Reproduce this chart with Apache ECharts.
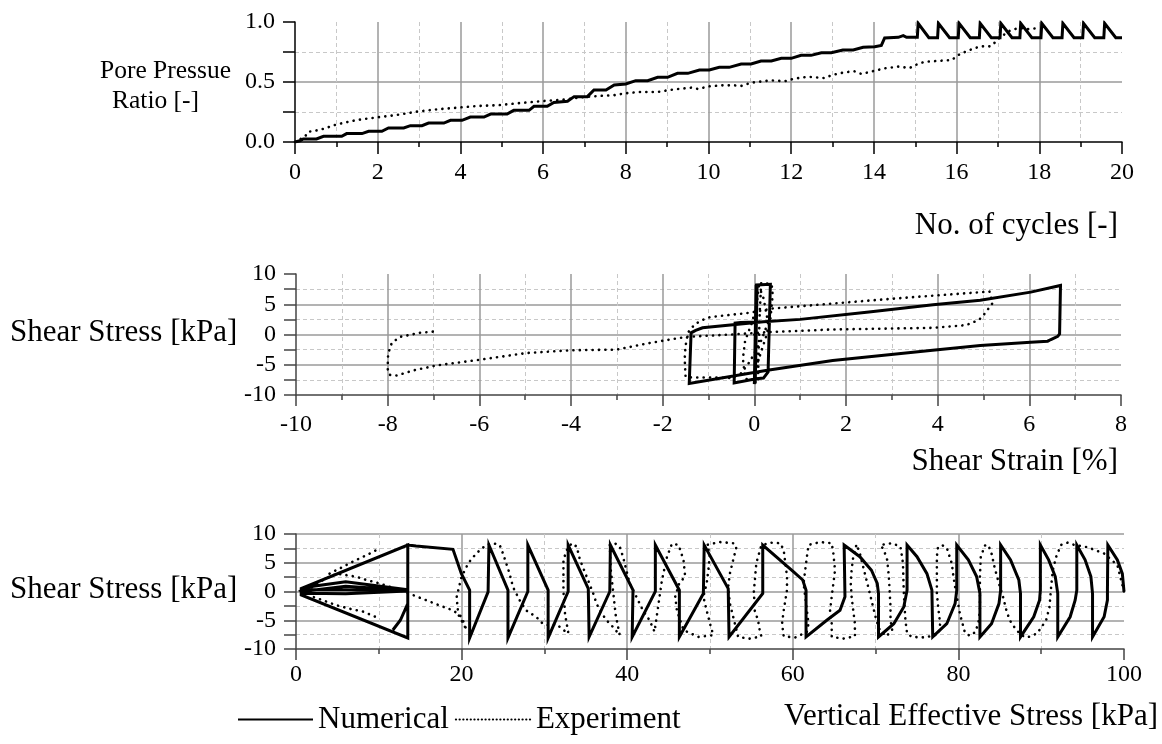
<!DOCTYPE html>
<html>
<head>
<meta charset="utf-8">
<script src="https://cdn.jsdelivr.net/npm/echarts@6/dist/echarts.min.js"></script>
<style>
  html, body { margin: 0; padding: 0; background: #fff; }
  #chart { width: 1162px; height: 744px; }
</style>
</head>
<body>
<div id="chart"></div>
<script>
// ---- axis ranges / tick labels ----
const cycleTicks = [0, 2, 4, 6, 8, 10, 12, 14, 16, 18, 20];
const ratioTicks = ['0.0', '0.5', '1.0'];
const strainTicks = [-10, -8, -6, -4, -2, 0, 2, 4, 6, 8];
const stressTicks = [-10, -5, 0, 5, 10];
const sigmaTicks = [0, 20, 40, 60, 80, 100];

// ---- pore pressure ratio vs. number of cycles ----
const ratioNumerical = [
  [0, 0], [0.12, 0.01], [0.2, 0.025], [0.52, 0.025], [0.69, 0.047], [1.13, 0.047],
  [1.25, 0.07], [1.62, 0.07], [1.78, 0.089], [2.1, 0.089], [2.26, 0.117], [2.63, 0.117],
  [2.79, 0.136], [3.07, 0.136], [3.23, 0.158], [3.6, 0.158], [3.76, 0.181], [4.04, 0.181],
  [4.24, 0.208], [4.57, 0.208], [4.73, 0.233], [5.13, 0.233], [5.29, 0.264], [5.66, 0.264],
  [5.78, 0.297], [6.1, 0.297], [6.26, 0.33], [6.59, 0.339], [6.75, 0.378], [7.07, 0.378],
  [7.23, 0.433], [7.52, 0.433], [7.72, 0.475], [8.0, 0.483], [8.24, 0.511], [8.53, 0.511],
  [8.77, 0.539], [9.01, 0.539], [9.25, 0.572], [9.5, 0.572], [9.78, 0.6], [10.02, 0.6],
  [10.26, 0.622], [10.5, 0.622], [10.79, 0.65], [11.03, 0.65], [11.27, 0.675], [11.52, 0.675],
  [11.76, 0.697], [12.0, 0.697], [12.24, 0.722], [12.48, 0.722], [12.73, 0.744], [12.97, 0.744],
  [13.25, 0.767], [13.5, 0.767], [13.74, 0.789], [14.02, 0.794], [14.18, 0.805], [14.26, 0.867],
  [14.59, 0.872], [14.71, 0.886], [14.79, 0.872], [15.05, 0.872],
  [15.07, 0.989], [15.33, 0.869], [15.54, 0.869], [15.56, 0.989], [15.83, 0.869], [16.04, 0.869],
  [16.06, 0.989], [16.33, 0.869], [16.55, 0.869], [16.57, 0.989], [16.84, 0.869], [17.05, 0.869],
  [17.07, 0.989], [17.34, 0.869], [17.53, 0.869], [17.55, 0.989], [17.82, 0.869], [18.04, 0.869],
  [18.06, 0.989], [18.33, 0.869], [18.55, 0.869], [18.57, 0.989], [18.84, 0.869], [19.05, 0.869],
  [19.07, 0.989], [19.34, 0.869], [19.56, 0.869], [19.58, 0.989], [19.85, 0.869], [20.0, 0.869]
];
const ratioExperiment = [
  [0, 0], [0.24, 0.044], [0.32, 0.086], [0.44, 0.09], [0.69, 0.11], [1.01, 0.147],
  [1.49, 0.183], [1.98, 0.205], [2.46, 0.225], [2.95, 0.253], [3.43, 0.272], [3.92, 0.286],
  [4.4, 0.3], [4.89, 0.306], [5.45, 0.325], [6.02, 0.342], [6.5, 0.353], [6.91, 0.372],
  [7.31, 0.383], [7.72, 0.39], [8.0, 0.406], [8.32, 0.417], [8.77, 0.417], [9.05, 0.433],
  [9.33, 0.444], [9.58, 0.453], [9.74, 0.442], [10.02, 0.464], [10.3, 0.472], [10.63, 0.472],
  [10.79, 0.467], [11.03, 0.494], [11.52, 0.514], [11.84, 0.506], [12.08, 0.528], [12.4, 0.544],
  [12.81, 0.533], [12.97, 0.556], [13.29, 0.581], [13.53, 0.589], [13.7, 0.567], [14.02, 0.594],
  [14.26, 0.614], [14.59, 0.628], [14.87, 0.617], [14.99, 0.64], [15.23, 0.669], [15.88, 0.683],
  [16.08, 0.733], [16.32, 0.767], [16.57, 0.797], [16.81, 0.797], [16.93, 0.83], [17.05, 0.872],
  [17.29, 0.928], [17.5, 0.95], [17.74, 0.94], [17.98, 0.95]
];

// ---- shear stress vs. shear strain ----
const strainNumerical = [
  [0.02, -8.1], [0.04, 8.2], [0.0, -8.2], [0.06, 8.2], [0.02, -8.0], [0.05, 8.2],
  [0.35, 8.3], [0.3, -6.2], [0.2, -7.2], [0.04, -7.3], [-0.44, -8.0], [-0.42, 1.9],
  [-0.3, 2.0], [0.2, 2.1], [1.0, 2.5], [2.5, 3.7], [3.9, 4.9], [4.93, 5.67], [6.03, 7.0],
  [6.68, 8.1], [6.66, 0.1], [6.62, -0.3], [6.47, -0.83], [6.4, -1.1], [6.03, -1.28],
  [4.93, -1.83], [3.89, -2.61], [1.71, -4.28], [0.25, -5.94], [-1.42, -8.1], [-1.38, 0.28],
  [-1.28, 0.67], [-1.13, 1.1], [0.2, 2.1]
];
const strainExperiment = [
  [0, 0], [0.05, -3], [0.08, -7.4], [0.1, -1], [0.12, 4], [0.15, 8.5], [0.3, 8.4], [0.38, 8.2],
  [0.4, 6.5], [0.35, 2.5], [0.25, -0.5], [0.1, -4], [-0.05, -7.6], [-0.2, -7.3], [-0.25, -4],
  [-0.2, -1], [-0.05, 2], [0.05, 5], [0.1, 8.0], [0.2, 6], [0.3, 2], [0.15, -1], [-0.1, -4.5],
  [-0.3, -6.5], [-0.5, -7.2], [-1.0, -7.1], [-1.35, -7.1], [-1.5, -7.0], [-1.52, -4.0],
  [-1.5, -1.9], [-1.45, 0.3], [-1.3, 1.7], [-1.1, 2.5], [-0.96, 2.89], [-0.09, 3.6], [0.4, 4.3],
  [2.0, 5.3], [3.5, 6.2], [5.13, 7.1], [5.2, 5.2], [5.0, 3.2], [4.9, 2.4], [4.62, 1.55],
  [3.89, 1.1], [1.71, 0.83], [0.3, 0.4], [-0.5, 0.0], [-1.48, -0.39], [-2.05, -1.1],
  [-2.35, -1.5], [-3.0, -2.5], [-4.02, -2.61], [-4.97, -3.06], [-5.99, -4.17], [-6.93, -5.11],
  [-7.44, -5.94], [-7.8, -6.78], [-7.96, -6.67], [-8.0, -5.67], [-7.99, -3.17], [-7.91, -1.39],
  [-7.73, -0.39], [-7.29, 0.28], [-6.89, 0.56]
];

// ---- shear stress vs. vertical effective stress ----
const pathNumerical = [
  [100.0, 0.0], [99.8, 3.1], [99.2, 5.5], [98.05, 8.08], [98.0, 0.23], [98.0, -1.5], [97.6, -4.4],
  [96.2, -7.9], [96.2, -0.35], [96.0, 2.6], [95.3, 5.5], [94.3, 8.08], [94.3, 0.23], [94.1, -1.5],
  [93.5, -4.4], [92.0, -7.9], [92.0, -0.35], [91.7, 2.6], [90.9, 5.5], [89.9, 8.08], [89.9, 0.23],
  [89.8, -1.5], [89.1, -4.4], [87.5, -7.9], [87.5, -0.35], [87.3, 2.0], [86.3, 5.5], [85.1, 8.08],
  [85.1, 0.23], [84.9, -2.1], [84.0, -5.6], [82.6, -7.9], [82.6, -0.35], [82.2, 2.6], [81.2, 5.5],
  [79.8, 8.08], [79.8, 0.23], [79.6, -2.1], [78.6, -5.6], [76.9, -7.9], [76.8, 0.23], [76.2, 3.1],
  [75.0, 6.05], [73.8, 8.08], [73.8, 0.23], [73.4, -2.7], [72.2, -5.6], [70.35, -7.9],
  [70.35, -0.35], [70.2, 1.4], [69.5, 3.7], [68.1, 6.05], [66.2, 8.08], [66.3, -0.9], [65.7, -3.26],
  [64.1, -5.0], [61.6, -7.9], [61.6, 0.23], [61.2, 2.0], [60.1, 3.4], [56.37, 8.08], [56.37, -0.35],
  [52.3, -7.9], [52.2, 0.5], [49.3, 8.08], [49.2, -0.35], [46.3, -7.9], [46.3, 0.23], [43.4, 8.08],
  [43.4, 0.0], [40.6, -7.9], [40.7, 0.23], [37.97, 8.08], [37.9, 0.0], [35.4, -7.9], [35.3, 0.5],
  [32.87, 8.08], [32.87, 0.0], [30.45, -8.08], [30.45, 0.23], [28.0, 8.08], [28.0, 0.0],
  [25.6, -8.08], [25.6, 0.23], [23.3, 8.08], [23.2, -0.06], [20.97, -8.08], [20.97, 0.23],
  [19.96, 3.14], [18.96, 7.33], [14.5, 7.9], [13.5, 8.08], [13.5, -8.08], [0.63, -0.6],
  [0.63, 0.5], [13.5, 8.08], [13.5, 0.3], [6.0, 1.7], [1.0, 0.7], [0.7, 0.3], [6.0, 0.3],
  [13.5, 0.1], [6.0, -0.4], [1.0, -0.3], [0.7, 0.0], [6.0, 0.9], [13.5, 0.2], [13.5, -2.1],
  [12.6, -5.0], [11.7, -6.7]
];
const pathExperiment = [
  [100.0, 0.0], [99.2, 4.6], [97.6, 6.6], [95.6, 7.7], [94.0, 8.1], [93.2, 8.5], [92.4, 8.1],
  [91.8, 6.0], [91.4, 3.7], [91.2, 0.8], [91.0, -2.7], [90.6, -5.0], [89.5, -7.3], [88.3, -8.0],
  [87.6, -7.6], [86.9, -6.5], [86.2, -5.0], [85.8, -3.3], [85.4, -1.0], [84.9, 1.4], [84.4, 4.0],
  [84.0, 6.6], [83.6, 8.1], [83.2, 8.0], [82.7, 6.0], [82.6, 2.6], [82.6, -0.35], [82.6, -3.3],
  [82.4, -5.6], [82.0, -7.1], [81.4, -7.7], [80.8, -7.2], [80.2, -4.0], [79.6, 0.8], [79.4, 2.6],
  [79.2, 4.9], [78.6, 7.6], [78.0, 8.1], [77.5, 7.5], [77.4, 6.0], [77.4, 2.6], [77.4, -0.35],
  [77.6, -3.3], [77.8, -5.6], [77.6, -7.4], [76.0, -8.0], [74.4, -7.9], [73.8, -7.3], [73.6, -5.0],
  [73.4, 0.0], [73.3, 5.0], [73.0, 7.8], [72.0, 8.4], [70.6, 8.1], [71.0, 7.2], [71.4, 5.5],
  [71.6, 2.6], [71.8, -2.7], [71.8, -5.0], [72.0, -6.7], [71.3, -7.8], [70.5, -6.7], [70.1, -5.0],
  [69.7, -2.7], [69.3, -0.35], [68.9, 2.0], [68.5, 4.3], [68.1, 6.6], [67.7, 8.2], [67.5, 8.4],
  [67.3, 6.0], [67.1, 3.7], [67.0, 1.4], [67.1, -0.9], [67.3, -3.3], [67.5, -5.6], [67.5, -7.8],
  [66.1, -8.2], [64.7, -7.9], [64.7, -5.6], [64.5, -3.3], [64.7, -0.9], [64.9, 1.4], [65.1, 3.7],
  [64.9, 6.6], [64.7, 8.4], [63.3, 8.6], [61.9, 8.1], [61.7, 6.0], [61.5, 3.7], [61.3, 1.4],
  [61.5, -0.9], [61.7, -3.3], [61.9, -5.6], [61.7, -7.0], [60.3, -8.0], [58.9, -7.8], [58.7, -5.6],
  [58.9, -3.3], [59.3, 0.23], [59.3, 2.6], [59.1, 4.9], [58.9, 7.2], [58.5, 8.4], [57.3, 8.5],
  [56.2, 8.0], [55.6, 5.0], [55.3, 0.0], [55.4, -3.3], [55.8, -5.0], [56.0, -6.7], [56.2, -7.8],
  [54.8, -8.2], [53.4, -7.9], [53.2, -6.7], [52.8, -4.4], [52.4, -2.1], [52.2, 0.8], [52.4, 3.1],
  [52.8, 5.5], [53.2, 7.8], [52.8, 8.4], [51.2, 8.6], [49.6, 8.1], [50.0, 6.6], [49.8, 3.7],
  [49.6, 1.4], [49.2, -0.9], [49.6, -3.3], [50.0, -5.6], [50.4, -7.6], [48.6, -7.9], [46.8, -6.7],
  [46.4, -5.0], [46.0, -3.3], [45.8, -0.9], [46.3, 1.5], [47.0, 2.6], [46.8, 5.5], [46.2, 8.1],
  [45.4, 8.3], [44.8, 6.0], [44.2, 2.0], [43.8, -2.0], [43.5, -5.0], [43.3, -7.0], [42.7, -5.0],
  [41.9, -3.3], [41.1, -0.9], [40.3, 1.4], [39.9, 3.7], [39.5, 6.0], [39.1, 7.8], [38.5, 8.4],
  [37.9, 8.1], [38.0, 4.0], [38.3, 0.0], [38.6, -4.0], [39.1, -7.6], [38.3, -6.2], [37.5, -5.0],
  [36.7, -3.3], [36.3, -2.1], [35.9, -0.35], [35.1, 2.6], [34.3, 5.5], [33.9, 7.8], [33.3, 8.4],
  [32.7, 7.2], [32.3, 5.5], [32.3, 0.0], [32.5, -4.0], [32.9, -7.3], [32.1, -6.5], [31.5, -5.7],
  [30.6, -5.9], [29.8, -5.6], [29.0, -4.4], [27.8, -3.3], [27.0, -1.5], [26.2, 0.8], [25.8, 3.1],
  [25.0, 6.6], [24.6, 8.1], [23.8, 8.4], [23.0, 8.1], [22.2, 7.2], [21.4, 6.0], [20.8, 4.9],
  [20.4, 3.7], [20.0, 2.6], [19.4, -1.0], [19.6, -4.0], [20.6, -6.7], [20.0, -4.4], [19.0, -3.3],
  [17.3, -2.4], [15.7, -1.5], [14.1, -0.6], [12.0, 0.5], [10.1, 1.4], [8.5, 2.0], [7.3, 2.56],
  [6.06, 2.85], [4.9, 3.1], [3.0, 1.8], [1.6, 0.4], [2.0, -0.9], [3.2, -1.5], [4.9, -2.4],
  [6.5, -3.0], [8.1, -3.5], [10.1, -4.7]
];
// upper branch of the last experimental cycles near liquefaction
const pathExperimentUpper = [
  [4.05, 3.1], [6.06, 4.6], [7.3, 5.5], [8.5, 6.3], [9.7, 7.2], [10.1, 7.3]
];

const FONT = '"Liberation Serif", "Times New Roman", serif';
const GRID_MAJOR = '#9a9a9a';
const GRID_MINOR = '#c8c8c8';

function valueAxis(gridIndex, ticks, opt) {
  const min = Number(ticks[0]);
  const max = Number(ticks[ticks.length - 1]);
  const interval = (max - min) / (ticks.length - 1);
  const axisColor = opt.axisColor || '#000';
  return {
    gridIndex: gridIndex,
    type: 'value',
    min: min,
    max: max,
    interval: interval,
    axisLine: { show: true, onZero: false, lineStyle: { color: axisColor, width: 1.5 } },
    axisTick: { show: true, inside: false, length: opt.tickLen, lineStyle: { color: axisColor, width: 1.5 } },
    minorTick: { show: true, splitNumber: opt.minorSplit, length: opt.minorLen, lineStyle: { color: axisColor, width: 1.5 } },
    splitLine: { show: true, showMinLine: false, showMaxLine: !!opt.maxLine, lineStyle: { color: GRID_MAJOR, width: 1.5 } },
    minorSplitLine: { show: true, lineStyle: { color: GRID_MINOR, width: 1, type: [4, 3] } },
    axisLabel: {
      color: '#000', fontFamily: FONT, fontSize: 24, margin: opt.margin,
      showMinLabel: true, showMaxLabel: true,
      formatter: function (v) {
        const i = Math.round((v - min) / interval);
        return String(ticks[i]);
      }
    }
  };
}

const chart = echarts.init(document.getElementById('chart'), null, { renderer: 'canvas' });

const solid = { color: '#000', width: 3, type: 'solid', cap: 'butt', join: 'miter' };
const dotted = { color: '#000', width: 2.6, type: [0.1, 6.3], cap: 'round' };

function lineSeries(name, data, idx, style) {
  return {
    name: name, type: 'line', xAxisIndex: idx, yAxisIndex: idx, data: data,
    showSymbol: false, symbol: 'none', smooth: false, animation: false,
    lineStyle: style, itemStyle: { color: '#000' }, z: name === 'Numerical' ? 3 : 2,
    emphasis: { disabled: true }
  };
}

function title(text, x, y, align, size) {
  return {
    type: 'text', x: x, y: y, silent: true,
    style: { text: text, font: size + 'px ' + FONT, fill: '#000', align: align, verticalAlign: 'middle' }
  };
}

chart.setOption({
  backgroundColor: '#fff',
  animation: false,
  grid: [
    { left: 295, right: 40, top: 22, height: 120 },
    { left: 296, right: 41, top: 274, height: 121 },
    { left: 296, right: 38, top: 534, height: 115 }
  ],
  xAxis: [
    valueAxis(0, cycleTicks, { tickLen: 12, minorSplit: 2, minorLen: 5, margin: 19 }),
    valueAxis(1, strainTicks, { tickLen: 11, minorSplit: 2, minorLen: 5, margin: 18, axisColor: '#444' }),
    valueAxis(2, sigmaTicks, { tickLen: 11, minorSplit: 2, minorLen: 5, margin: 14, axisColor: '#444' })
  ],
  yAxis: [
    valueAxis(0, ratioTicks, { tickLen: 12, minorSplit: 2, minorLen: 12, margin: 20 }),
    valueAxis(1, stressTicks, { tickLen: 12, minorSplit: 2, minorLen: 12, margin: 20, axisColor: '#444' }),
    valueAxis(2, stressTicks, { tickLen: 12, minorSplit: 2, minorLen: 12, margin: 20, axisColor: '#444', maxLine: true })
  ],
  legend: {
    data: [
      { name: 'Numerical' },
      { name: 'Experiment', lineStyle: { type: [0.1, 3.6], width: 2.2, cap: 'round' } }
    ],
    left: 232, top: 699,
    itemWidth: 75, itemHeight: 14, itemGap: 6,
    itemStyle: { color: 'rgba(0,0,0,0)', borderWidth: 0, opacity: 0 },
    textStyle: { color: '#000', fontFamily: FONT, fontSize: 31 }
  },
  graphic: [
    title('Pore Pressue', 100, 71, 'left', 25.5),
    title('Ratio [-]', 112, 101, 'left', 25.5),
    title('No. of cycles [-]', 1118, 226, 'right', 31),
    title('Shear Stress [kPa]', 10, 333, 'left', 31),
    title('Shear Strain [%]', 1118, 462, 'right', 31),
    title('Shear Stress [kPa]', 10, 590, 'left', 31),
    title('Vertical Effective Stress [kPa]', 1158, 717, 'right', 31)
  ],
  series: [
    lineSeries('Experiment', ratioExperiment, 0, dotted),
    lineSeries('Numerical', ratioNumerical, 0, solid),
    lineSeries('Experiment', strainExperiment, 1, dotted),
    lineSeries('Numerical', strainNumerical, 1, solid),
    lineSeries('Experiment', pathExperiment, 2, dotted),
    lineSeries('Experiment', pathExperimentUpper, 2, dotted),
    lineSeries('Numerical', pathNumerical, 2, solid)
  ]
});
</script>
</body>
</html>
